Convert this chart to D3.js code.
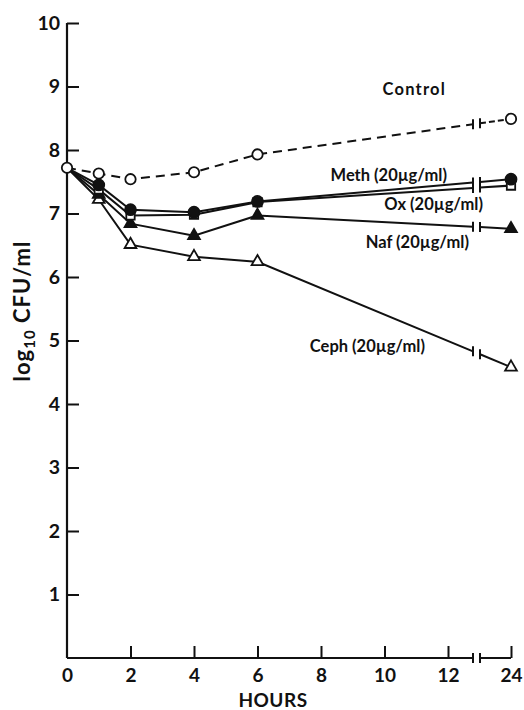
<!doctype html>
<html>
<head>
<meta charset="UTF-8">
<title>log10 CFU/ml vs hours</title>
<script src="https://d3js.org/d3.v7.min.js"></script>
<style>
  body { margin: 0; background: #fff; }
  svg text { font-family: Lato, "Noto Sans", sans-serif; fill: #111; font-weight: 700; }
</style>
</head>
<body>
<script>
// hours sampled
var hours = [0, 1, 2, 4, 6, 24];
// log10 CFU/ml for each regimen
var control = [7.72, 7.63, 7.54, 7.65, 7.93, 8.49];
var meth    = [7.72, 7.45, 7.06, 7.02, 7.19, 7.54];
var ox      = [7.72, 7.38, 6.97, 6.98, 7.18, 7.44];
var naf     = [7.72, 7.30, 6.84, 6.65, 6.97, 6.76];
var ceph    = [7.72, 7.22, 6.51, 6.32, 6.24, 4.58];
var seriesNames = ["Control", "Meth (20\u00b5g/ml)", "Ox (20\u00b5g/ml)", "Naf (20\u00b5g/ml)", "Ceph (20\u00b5g/ml)"];
var xTicks = [0, 2, 4, 6, 8, 10, 12, 24];
var yTicks = [1, 2, 3, 4, 5, 6, 7, 8, 9, 10];

var w = 524, h = 710;
var svg = d3.select("body").append("svg").attr("width", w).attr("height", h);

// x has a broken axis between 12 and 24
var x = d3.scaleLinear().domain([0, 12, 24]).range([67, 448, 511]);
var y = d3.scaleLinear().domain([0, 10]).range([658, 23]);
var brk1 = x(12) + 25, brk2 = brk1 + 7;

var series = [
  {name: seriesNames[0], vals: control, marker: "circle", fill: "#fff", dash: "9,6", lx: 446, ly: 95, ls: 1.2},
  {name: seriesNames[4], vals: ceph, marker: "triangle", fill: "#fff", dash: null, lx: 425, ly: 352, ls: 0},
  {name: seriesNames[3], vals: naf, marker: "triangle", fill: "#111", dash: null, lx: 469, ly: 248, ls: 0},
  {name: seriesNames[2], vals: ox, marker: "square", fill: "#fff", dash: null, lx: 483, ly: 210, ls: 0},
  {name: seriesNames[1], vals: meth, marker: "circle", fill: "#111", dash: null, lx: 447, ly: 181, ls: 0}
];

// axes
var yAxis = d3.axisLeft(y).tickValues(yTicks).tickSizeInner(-12).tickSizeOuter(0).tickPadding(9);
var gy = svg.append("g").attr("transform", "translate(" + x(0) + ",0)").call(yAxis);
gy.select(".domain").remove();
gy.selectAll("line").attr("stroke", "#111").attr("stroke-width", 2);
gy.selectAll("text").attr("font-size", 19.5).attr("dx", 2).attr("font-family", null);
svg.append("line").attr("x1", x(0)).attr("x2", x(0)).attr("y1", y(10)).attr("y2", y(0))
  .attr("stroke", "#111").attr("stroke-width", 2.2);

var xAxis = d3.axisBottom(x).tickValues(xTicks).tickSizeInner(-12).tickSizeOuter(0).tickPadding(11);
var gx = svg.append("g").attr("transform", "translate(0," + y(0) + ")").call(xAxis);
gx.select(".domain").remove();
gx.selectAll(".tick").filter(function(d){ return d === 0; }).select("line").remove();
gx.selectAll("line").attr("stroke", "#111").attr("stroke-width", 2);
gx.selectAll("text").attr("font-size", 19).attr("font-family", null);

// x axis line with break
svg.append("path")
  .attr("d", "M" + x(0) + "," + y(0) + "H" + brk1 + "M" + brk2 + "," + y(0) + "H" + x(24))
  .attr("stroke", "#111").attr("stroke-width", 2).attr("fill", "none");
[brk1, brk2].forEach(function(bx){
  svg.append("line").attr("x1", bx).attr("x2", bx).attr("y1", y(0) - 5).attr("y2", y(0) + 5)
    .attr("stroke", "#111").attr("stroke-width", 2);
});

svg.append("text").attr("x", 273).attr("y", 707).attr("text-anchor", "middle")
  .attr("font-size", 19).attr("letter-spacing", 0.5).text("HOURS");

var yl = svg.append("text").attr("transform", "translate(30,311) rotate(-90)")
  .attr("text-anchor", "middle").attr("font-size", 22).attr("letter-spacing", 1);
yl.append("tspan").text("log");
yl.append("tspan").attr("font-size", 15).attr("dy", 5).text("10");
yl.append("tspan").attr("dy", -5).text(" CFU/ml");

// lines
var line = d3.line().x(function(d){ return d[0]; }).y(function(d){ return d[1]; });
series.forEach(function(s){
  var pts = hours.map(function(hh, i){ return [x(hh), y(s.vals[i])]; });
  var pre = pts.slice(0, pts.length - 1);
  var last = pre[pre.length - 1], end = pts[pts.length - 1];
  function at(px){ return [px, last[1] + (end[1] - last[1]) * (px - last[0]) / (end[0] - last[0])]; }
  var b1 = at(brk1), b2 = at(brk2);
  var g = svg.append("g");
  g.append("path").attr("d", line(pre.concat([b1]))).attr("fill", "none")
    .attr("stroke", "#111").attr("stroke-width", 2).attr("stroke-dasharray", s.dash);
  g.append("path").attr("d", line([b2, end])).attr("fill", "none")
    .attr("stroke", "#111").attr("stroke-width", 2).attr("stroke-dasharray", s.dash ? "6,3" : null);
  [b1, b2].forEach(function(b){
    g.append("line").attr("x1", b[0]).attr("x2", b[0]).attr("y1", b[1] - 5).attr("y2", b[1] + 5)
      .attr("stroke", "#111").attr("stroke-width", 2);
  });
  s.pts = pts;
});

// markers
series.forEach(function(s){
  var g = svg.append("g");
  var pts = s.pts.slice(s.name === "Control" ? 0 : 1);
  if (s.marker === "circle") {
    g.selectAll("circle").data(pts).enter().append("circle")
      .attr("cx", function(d){ return d[0]; }).attr("cy", function(d){ return d[1]; })
      .attr("r", s.fill === "#fff" ? 5.2 : 5.5)
      .attr("fill", s.fill).attr("stroke", "#111").attr("stroke-width", 1.8);
  } else {
    var sym = d3.symbol().type(s.marker === "square" ? d3.symbolSquare : d3.symbolTriangle)
      .size(s.marker === "square" ? 70 : 60);
    g.selectAll("path").data(pts).enter().append("path")
      .attr("transform", function(d){ return "translate(" + d[0] + "," + d[1] + ")"; })
      .attr("d", sym).attr("fill", s.fill).attr("stroke", "#111").attr("stroke-width", 1.8);
  }
  svg.append("text").attr("x", s.lx).attr("y", s.ly).attr("text-anchor", "end")
    .attr("font-size", 16.5).attr("letter-spacing", s.ls).text(s.name);
});
</script>
</body>
</html>
